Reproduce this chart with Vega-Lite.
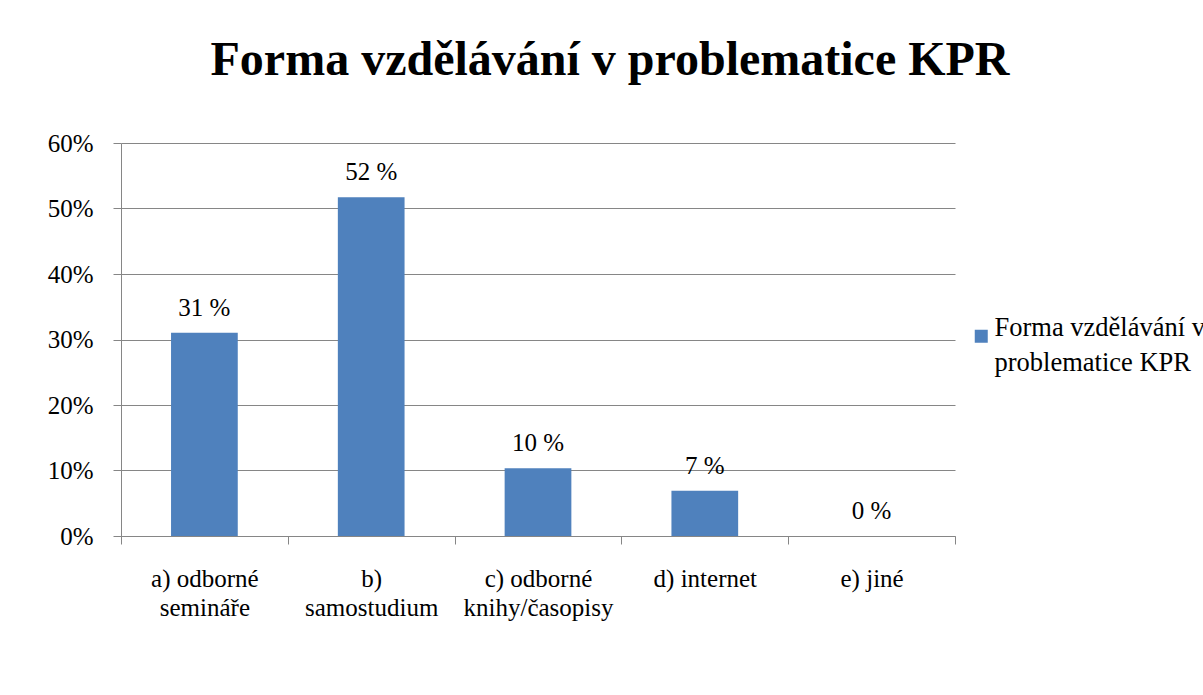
{
  "$schema": "https://vega.github.io/schema/vega-lite/v6.json",
  "autosize": {"type": "none"},
  "width": 834,
  "height": 393,
  "padding": {"left": 121, "top": 143, "right": 248, "bottom": 159},
  "background": "white",
  "title": {
    "text": "Forma vzdělávání v problematice KPR",
    "font": "Liberation Serif",
    "fontSize": 48,
    "fontWeight": "bold",
    "color": "#000000",
    "anchor": "middle",
    "frame": "group",
    "baseline": "alphabetic",
    "dx": 72,
    "offset": 8
  },
  "data": {
    "values": [
      {"kategorie": "a) odborné semináře", "podil": 0.3103, "label": "31 %"},
      {"kategorie": "b) samostudium", "podil": 0.5172, "label": "52 %"},
      {"kategorie": "c) odborné knihy/časopisy", "podil": 0.1034, "label": "10 %"},
      {"kategorie": "d) internet", "podil": 0.069, "label": "7 %"},
      {"kategorie": "e) jiné", "podil": 0, "label": "0 %"}
    ]
  },
  "encoding": {
    "x": {
      "field": "kategorie",
      "type": "nominal",
      "sort": null,
      "scale": {"paddingInner": 0, "paddingOuter": 0},
      "axis": {
        "title": null,
        "labelAngle": 0,
        "labelFont": "Liberation Serif",
        "labelFontSize": 25,
        "labelColor": "#000000",
        "labelPadding": 22,
        "labelLineHeight": 29.5,
        "labelLimit": 400,
        "labelExpr": "datum.label == 'a) odborné semináře' ? ['a) odborné', 'semináře'] : datum.label == 'b) samostudium' ? ['b)', 'samostudium'] : datum.label == 'c) odborné knihy/časopisy' ? ['c) odborné', 'knihy/časopisy'] : datum.label",
        "tickBand": "extent",
        "tickSize": 8,
        "tickColor": "#868686",
        "domainColor": "#868686",
        "grid": false
      }
    },
    "y": {
      "field": "podil",
      "type": "quantitative",
      "scale": {"domain": [0, 0.6], "nice": false},
      "axis": {
        "title": null,
        "values": [0, 0.1, 0.2, 0.3, 0.4, 0.5, 0.6],
        "format": ".0%",
        "labelFont": "Liberation Serif",
        "labelFontSize": 25,
        "labelColor": "#000000",
        "labelPadding": 20,
        "tickSize": 8,
        "tickColor": "#868686",
        "domainColor": "#868686",
        "grid": true,
        "gridColor": "#868686",
        "gridWidth": 1
      }
    }
  },
  "layer": [
    {
      "mark": {"type": "bar", "color": "#4F81BD", "width": {"band": 0.4}},
      "encoding": {
        "color": {
          "datum": "Forma vzdělávání v problematice KPR",
          "type": "nominal",
          "scale": {"range": ["#4F81BD"]},
          "legend": {
            "title": null,
            "orient": "none",
            "legendX": 847,
            "legendY": 180,
            "padding": 0,
            "symbolType": "square",
            "symbolSize": 169,
            "symbolStrokeWidth": 0,
            "labelFont": "Liberation Serif",
            "labelFontSize": 26.5,
            "labelColor": "#000000",
            "labelBaseline": "alphabetic",
            "labelOffset": 0,
            "labelLimit": 600,
            "labelExpr": "['Forma vzdělávání v', 'problematice KPR']"
          }
        }
      }
    },
    {
      "mark": {
        "type": "text",
        "font": "Liberation Serif",
        "fontSize": 25,
        "color": "#000000",
        "baseline": "alphabetic",
        "dy": -17
      },
      "encoding": {
        "text": {"field": "label"}
      }
    }
  ],
  "config": {
    "view": {"stroke": null},
    "style": {"guide-label": {"lineHeight": 35}}
  }
}
